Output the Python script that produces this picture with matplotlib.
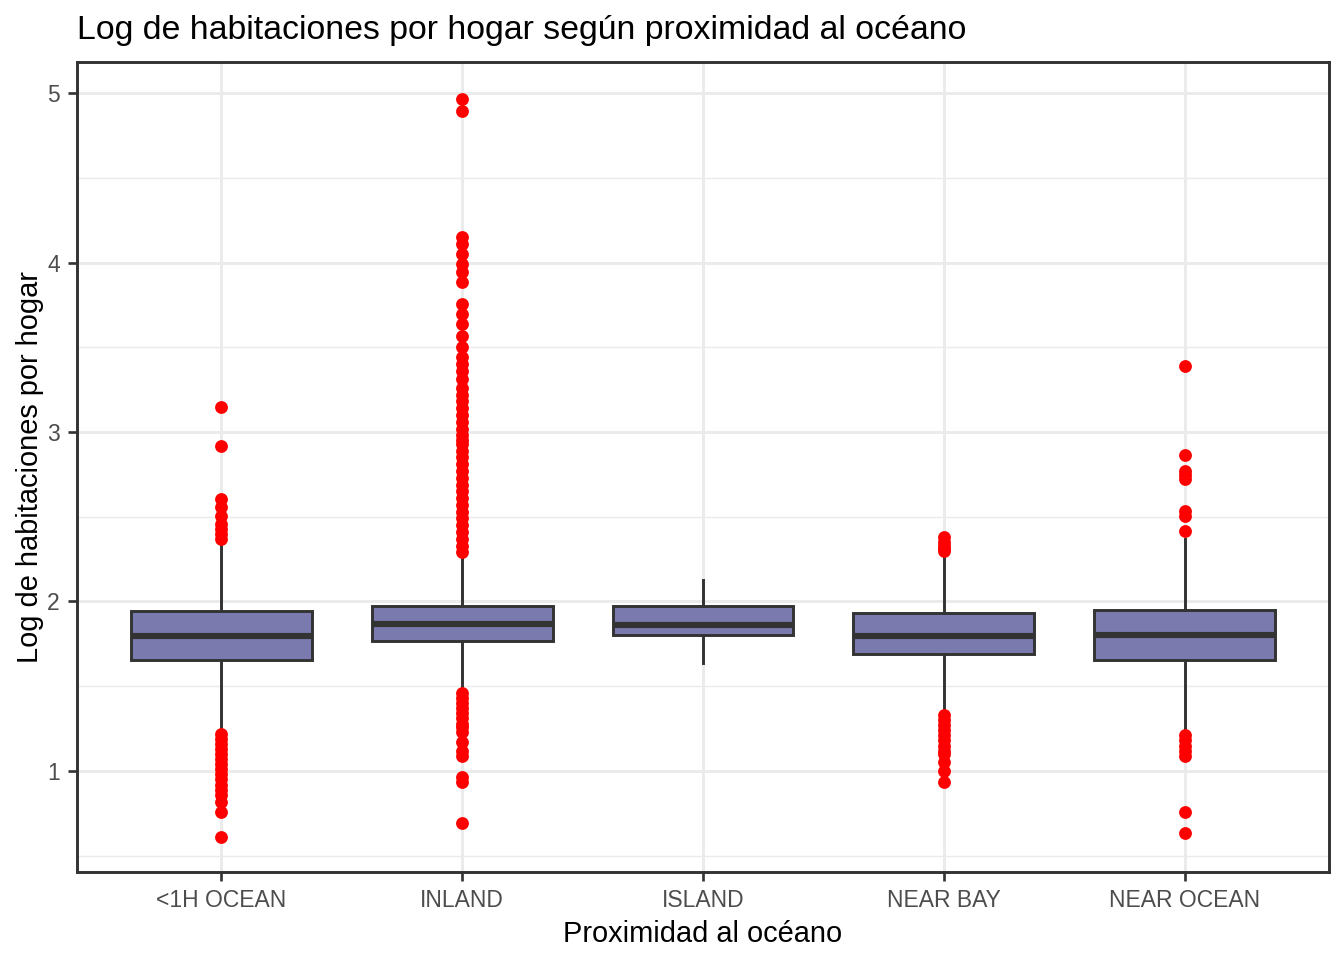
import matplotlib
matplotlib.use("Agg")
import matplotlib.pyplot as plt
from matplotlib.ticker import MultipleLocator

plt.rcParams['font.family'] = ['Liberation Sans', 'DejaVu Sans']

categories = ["<1H OCEAN", "INLAND", "ISLAND", "NEAR BAY", "NEAR OCEAN"]
q1 = [1.652, 1.766, 1.801, 1.688, 1.652]
med = [1.798, 1.869, 1.863, 1.798, 1.804]
q3 = [1.943, 1.972, 1.976, 1.931, 1.947]
whislo = [1.235, 1.465, 1.636, 1.328, 1.229]
whishi = [2.36, 2.283, 2.124, 2.29, 2.366]

out_1h = [3.146, 2.916, 2.606, 2.556, 2.507, 2.46, 2.43, 2.40, 2.37,
          1.22, 1.19, 1.16, 1.13, 1.10, 1.07, 1.04, 1.01, 0.98, 0.95,
          0.916, 0.89, 0.86, 0.817, 0.758, 0.61]
out_inland = [4.964, 4.895, 4.148, 4.109, 4.05, 3.991, 3.942, 3.883,
              3.755, 3.696, 3.637, 3.568, 3.50, 3.44, 3.40, 3.36, 3.313,
              3.26, 3.22, 3.18, 3.14, 3.10, 3.06, 3.02, 2.98, 2.95,
              2.93, 2.89, 2.85, 2.81, 2.77, 2.73, 2.69, 2.65, 2.61, 2.57,
              2.53, 2.49, 2.45, 2.41, 2.37, 2.33, 2.29,
              1.46, 1.43, 1.40, 1.37, 1.34, 1.31, 1.28, 1.26,
              1.229, 1.17, 1.12, 1.09, 0.964, 0.935, 0.693]
out_island = []
out_bay = [2.38, 2.35, 2.33, 2.31, 2.30,
           1.33, 1.30, 1.27, 1.24, 1.21, 1.18, 1.15, 1.12, 1.10,
           1.053, 1.0, 0.935]
out_ocean = [3.387, 2.865, 2.772, 2.745, 2.723, 2.536, 2.507, 2.413,
             1.21, 1.18, 1.15, 1.12, 1.09, 0.758, 0.634]
outliers = [out_1h, out_inland, out_island, out_bay, out_ocean]

title = "Log de habitaciones por hogar según proximidad al océano"
xlabel = "Proximidad al océano"
ylabel = "Log de habitaciones por hogar"

fig = plt.figure(figsize=(7, 5), dpi=192)
ax = fig.add_axes([77/1344, 1 - 872/960, (1329 - 77)/1344, (872 - 62)/960])

stats = []
for i, c in enumerate(categories):
    stats.append(dict(label=c, q1=q1[i], med=med[i], q3=q3[i],
                      whislo=whislo[i], whishi=whishi[i], fliers=outliers[i]))

edge = "#333333"
positions = list(range(1, len(categories) + 1))
ax.bxp(stats, positions=positions, widths=0.75, patch_artist=True,
       showcaps=False,
       boxprops=dict(facecolor="#7A7AAE", edgecolor=edge, linewidth=1.1),
       medianprops=dict(color=edge, linewidth=2.3, solid_capstyle='butt'),
       whiskerprops=dict(color=edge, linewidth=1.1),
       flierprops=dict(marker='o', markerfacecolor='red', markeredgecolor='red',
                       markersize=3.8, linestyle='none'),
       zorder=3)

ax.set_xlim(0.4, 5.6)
ax.set_ylim(0.404, 5.183)
ax.yaxis.set_major_locator(MultipleLocator(1))
ax.yaxis.set_minor_locator(MultipleLocator(0.5))
ax.set_xticks(positions)
ax.set_xticklabels(categories)

ax.grid(True, which='major', color='#EBEBEB', linewidth=1.1, zorder=0)
ax.grid(True, which='minor', axis='y', color='#EBEBEB', linewidth=0.55, zorder=0)
ax.set_axisbelow(True)
ax.tick_params(axis='y', which='minor', length=0)
ax.tick_params(axis='both', which='major', length=3.5, width=1.0, color=edge,
               labelsize=8.6, labelcolor='#4D4D4D', pad=3)
for s in ax.spines.values():
    s.set_color(edge)
    s.set_linewidth(1.1)

ax.set_xlabel(xlabel, fontsize=10.9, color='black', labelpad=3)
ax.set_ylabel(ylabel, fontsize=10.9, color='black', labelpad=1)
fig.text(77/1344, 1 - 31/960, title, fontsize=12.7, ha='left', va='center', color='black')

fig.savefig("out.png", dpi=192)
